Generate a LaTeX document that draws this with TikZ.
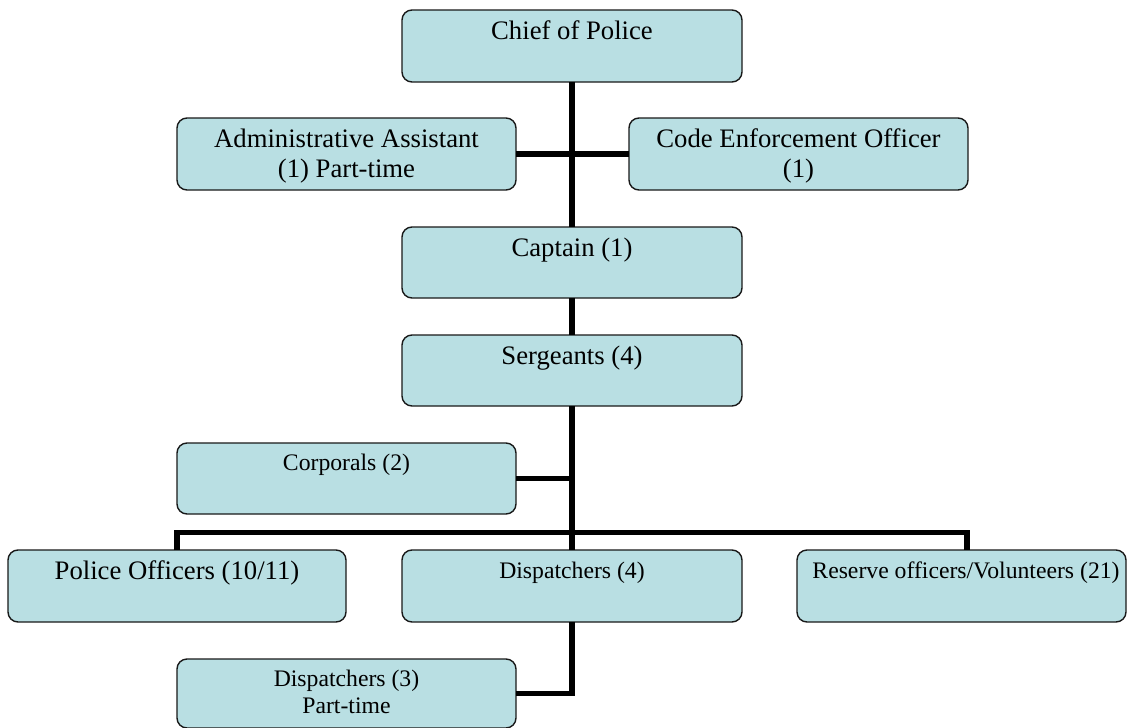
\documentclass[tikz,border=0pt]{standalone}
\usepackage{fontspec}
\setmainfont{Liberation Serif}
\newfontfamily\boxfont{Liberation Serif}
\definecolor{boxfill}{RGB}{185,223,227}
\begin{document}
\begin{tikzpicture}[x=1pt,y=-1pt,
  box/.style={draw=black!90, line width=1.4pt, fill=boxfill, rounded corners=10pt,
              inner sep=0pt, outer sep=0pt},
  big/.style={font=\boxfont\fontsize{26.7}{30.5}\selectfont, align=center, inner sep=0pt, anchor=base},
  small/.style={font=\boxfont\fontsize{23.7}{27.5}\selectfont, align=center, inner sep=0pt, anchor=base},
  link/.style={line width=5.5pt, line join=miter}]
\useasboundingbox (0,0) rectangle (1130,728);

% boxes
\node[box, minimum width=340pt, minimum height=72pt] (chief)    at (572,46)    {};
\node[box, minimum width=339pt, minimum height=72pt] (admin)    at (346.5,154) {};
\node[box, minimum width=339pt, minimum height=72pt] (code)     at (798.5,154) {};
\node[box, minimum width=340pt, minimum height=71pt] (captain)  at (572,262.5) {};
\node[box, minimum width=340pt, minimum height=71pt] (serg)     at (572,370.5) {};
\node[box, minimum width=339pt, minimum height=71pt] (corp)     at (346.5,478.5) {};
\node[box, minimum width=338pt, minimum height=72pt] (police)   at (177,586)   {};
\node[box, minimum width=340pt, minimum height=72pt] (disp)     at (572,586)   {};
\node[box, minimum width=329pt, minimum height=72pt] (reserve)  at (961.5,586) {};
\node[box, minimum width=339pt, minimum height=69pt] (parttime) at (346.5,693.5) {};

% labels (anchor=base is the baseline of the last line)
\node[big]   (chief-t)    at ([yshift=-29pt]chief.north)      {Chief of Police};
\node[big]   (admin-t)    at ([yshift=-59.5pt]admin.north)    {Administrative Assistant\\(1) Part-time};
\node[big]   (code-t)     at ([yshift=-59.5pt]code.north)     {Code Enforcement Officer\\(1)};
\node[big]   (captain-t)  at ([yshift=-29pt]captain.north)    {Captain (1)};
\node[big]   (serg-t)     at ([yshift=-29pt]serg.north)       {Sergeants (4)};
\node[small] (corp-t)     at ([yshift=-27pt]corp.north)       {Corporals (2)};
\node[big]   (police-t)   at ([yshift=-29pt]police.north)     {Police Officers (10/11)};
\node[small] (disp-t)     at ([yshift=-28pt]disp.north)       {Dispatchers (4)};
\node[small] (reserve-t)  at ([yshift=-28pt,xshift=4.5pt]reserve.north) {Reserve officers/Volunteers (21)};
\node[small] (parttime-t) at ([yshift=-54.5pt]parttime.north) {Dispatchers (3)\\Part-time};

% connectors
\coordinate (bus) at (572,532.5);
\coordinate (resdrop) at (967,550);
\draw[link] (chief.south) -- (captain.north);
\draw[link] (admin.east) -- (code.west);
\draw[link] (captain.south) -- (serg.north);
\draw[link] (serg.south) -- (disp.north);
\draw[link] (corp.east) -- (corp.east -| serg.south);
\draw[link] (police.north) |- (bus) -| (resdrop);
\draw[link] (disp.south) |- (parttime.east);
\end{tikzpicture}
\end{document}
